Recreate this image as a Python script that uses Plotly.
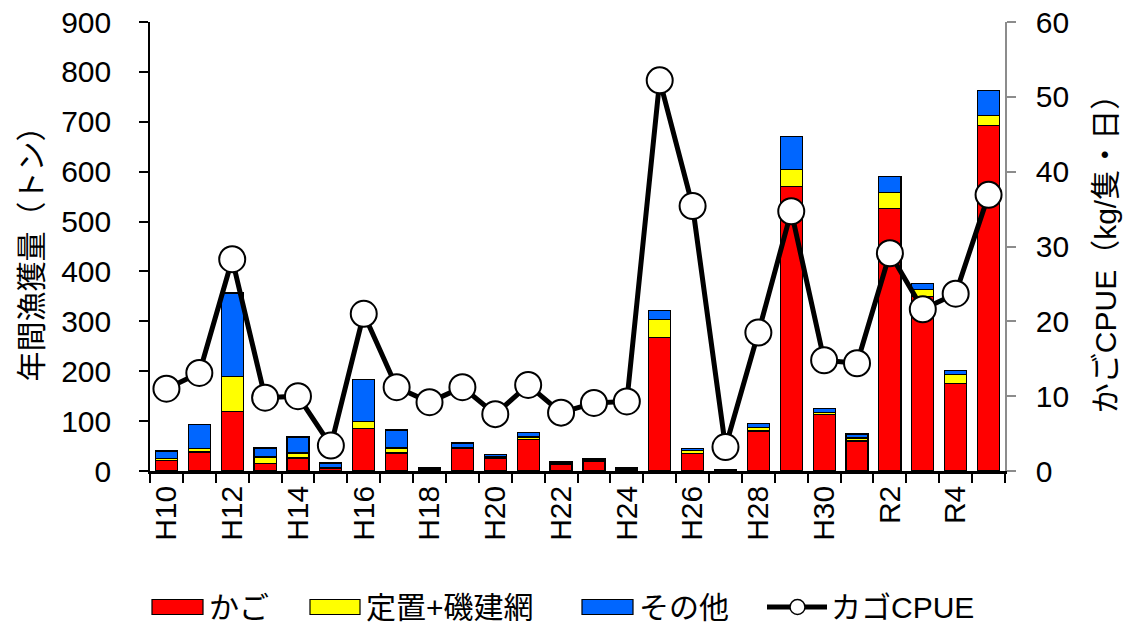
import plotly.graph_objects as go

# Fiscal years (Heisei / Reiwa)
years = ["H10", "H11", "H12", "H13", "H14", "H15", "H16", "H17", "H18", "H19",
         "H20", "H21", "H22", "H23", "H24", "H25", "H26", "H27", "H28", "H29",
         "H30", "R1", "R2", "R3", "R4", "R5"]
tick_labels = [y if i % 2 == 0 else "" for i, y in enumerate(years)]

# Annual catch (tonnes) by gear type
kago = [21, 38, 120, 15, 26, 5, 86, 36, 4, 46,
        25, 63, 13, 19, 4, 268, 35, 2, 80, 570,
        113, 60, 526, 349, 175, 693]
teichi = [4, 7, 69, 13, 10, 2, 14, 10, 1, 1,
          3, 5, 3, 2, 1, 36, 6, 0.5, 7, 35,
          4, 6, 32, 15, 19, 20]
sonota = [15, 49, 168, 18, 32, 9, 84, 36, 1, 9,
          5, 9, 2, 3, 1, 17, 4, 0.5, 9, 66,
          9, 8, 33, 12, 7, 50]

# Pot-fishery CPUE (kg per vessel per day)
cpue = [11.0, 13.1, 28.3, 9.8, 10.0, 3.4, 21.0, 11.2, 9.2, 11.2,
        7.6, 11.5, 7.8, 9.1, 9.3, 52.2, 35.4, 3.2, 18.5, 34.7,
        14.8, 14.4, 29.1, 21.6, 23.7, 36.9]

FONT = "Arial, 'Liberation Sans', 'Noto Sans CJK JP', sans-serif"
FS = 30
RED, YELLOW, BLUE = "#ff0000", "#ffff00", "#0066ff"
edge = dict(color="black", width=1.2)

W, H = 1128, 624
ML, MR, MT, MB = 150, 123, 22, 153
PW, PH = W - ML - MR, H - MT - MB

fig = go.Figure()
fig.add_trace(go.Bar(x=years, y=kago, name="かご", showlegend=False,
                     marker=dict(color=RED, line=edge)))
fig.add_trace(go.Bar(x=years, y=teichi, name="定置+磯建網", showlegend=False,
                     marker=dict(color=YELLOW, line=edge)))
fig.add_trace(go.Bar(x=years, y=sonota, name="その他", showlegend=False,
                     marker=dict(color=BLUE, line=edge)))
fig.add_trace(go.Scatter(x=years, y=cpue, name="カゴCPUE", yaxis="y2",
                         mode="lines+markers", showlegend=False,
                         line=dict(color="black", width=5),
                         marker=dict(symbol="circle", size=26, color="white",
                                     line=dict(color="black", width=2))))


# Legend drawn below the plot with wide swatches (pixel positions -> paper coords)
def px(x):
    return (x - ML) / PW


def py(y):
    return (H - MB - y) / PH


legend_y = 607
shapes = []
annotations = []
for x0, x1, color, label in [(152, 203, RED, "かご"),
                             (310, 360, YELLOW, "定置+磯建網"),
                             (582, 633, BLUE, "その他")]:
    shapes.append(dict(type="rect", xref="paper", yref="paper",
                       x0=px(x0), x1=px(x1), y0=py(legend_y + 7.5), y1=py(legend_y - 7.5),
                       fillcolor=color, line=dict(color="black", width=1.2)))
    annotations.append(dict(xref="paper", yref="paper", x=px(x1 + 4), y=py(legend_y),
                            xanchor="left", yanchor="middle", showarrow=False,
                            text=label, font=dict(size=FS)))
shapes.append(dict(type="line", xref="paper", yref="paper",
                   x0=px(767), x1=px(827), y0=py(legend_y), y1=py(legend_y),
                   line=dict(color="black", width=5)))
shapes.append(dict(type="circle", xref="paper", yref="paper",
                   x0=px(790), x1=px(805), y0=py(legend_y + 7.5), y1=py(legend_y - 7.5),
                   fillcolor="white", line=dict(color="black", width=1.5)))
annotations.append(dict(xref="paper", yref="paper", x=px(829), y=py(legend_y),
                        xanchor="left", yanchor="middle", showarrow=False,
                        text="カゴCPUE", font=dict(size=FS)))

fig.update_layout(
    width=W, height=H,
    barmode="stack", bargap=0.33,
    paper_bgcolor="white", plot_bgcolor="white",
    font=dict(family=FONT, size=FS, color="black"),
    margin=dict(l=ML, r=MR, t=MT, b=MB, autoexpand=False),
    showlegend=False,
    shapes=shapes,
    annotations=annotations,
    xaxis=dict(type="category", range=[-0.5, len(years) - 0.5], automargin=False,
               tickmode="array", tickvals=years, ticktext=tick_labels,
               tickangle=-90, tickson="boundaries", ticks="outside", ticklen=9,
               tickcolor="black", tickwidth=1.5,
               showline=True, linecolor="black", linewidth=2.5,
               showgrid=False, tickfont=dict(size=FS)),
    yaxis=dict(range=[0, 900], dtick=100, ticks="outside", ticklen=9, automargin=False,
               tickcolor="black", tickwidth=1.5, ticklabelstandoff=22,
               showline=True, linecolor="black", linewidth=1.5,
               showgrid=False, zeroline=False, tickfont=dict(size=FS),
               title=dict(text="年間漁獲量（トン）", font=dict(size=FS), standoff=10)),
    yaxis2=dict(range=[0, 60], dtick=10, overlaying="y", side="right", automargin=False,
                ticks="outside", ticklen=9, tickcolor="#8c8c8c", tickwidth=1.5,
                ticklabelstandoff=14,
                showline=True, linecolor="#8c8c8c", linewidth=1.5,
                showgrid=False, zeroline=False, tickfont=dict(size=FS),
                title=dict(text="かごCPUE（kg/隻・日）", font=dict(size=FS), standoff=27)),
)

fig.write_html("out.html")
